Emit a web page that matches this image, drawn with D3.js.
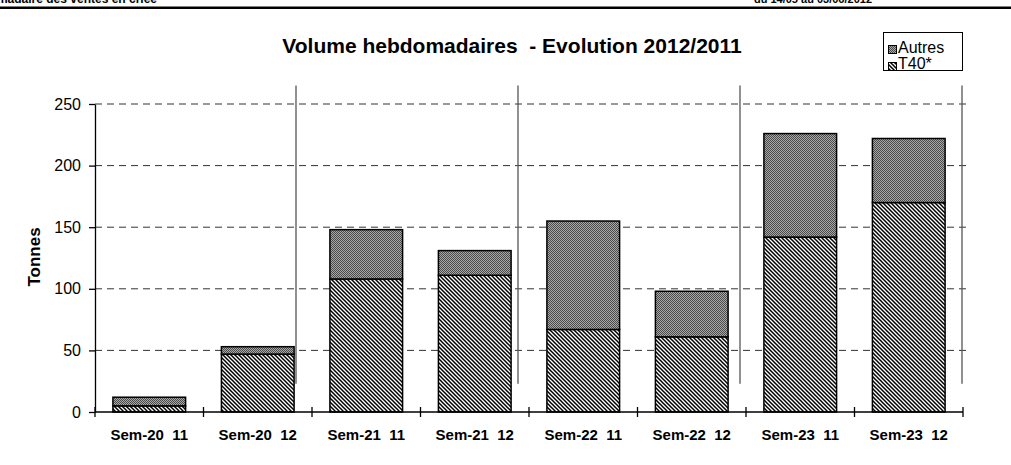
<!DOCTYPE html>
<html><head><meta charset="utf-8">
<script src="https://cdn.jsdelivr.net/npm/d3@7"></script>
<style>
body{margin:0;background:#fff;}
svg{display:block;font-family:Arial,"Liberation Sans",sans-serif;}
</style></head>
<body><svg id="c" width="1011" height="465"></svg>
<script>
const categories = ["Sem-20  11","Sem-20  12","Sem-21  11","Sem-21  12","Sem-22  11","Sem-22  12","Sem-23  11","Sem-23  12"];
const weeks = ["Sem-20","Sem-21","Sem-22","Sem-23"];
const t40 = [5, 47, 108, 111, 67, 61, 142, 170];
const autres = [7, 6, 40, 20, 88, 37, 84, 52];
const yTicks = [0, 50, 100, 150, 200, 250];
const seriesNames = ["Autres", "T40*"];
const title = "Volume hebdomadaires  - Evolution 2012/2011";
const headerLeft = "Hebdomadaire des ventes en criée";
const headerRight = "du 14/05 au 03/06/2012";

(function(){
const svg = d3.select("#c");
const W = 1011, H = 465;
const pL = 95, pR = 963, pT = 104, pB = 412;

// patterns
const defs = svg.append("defs");
const patA = defs.append("pattern").attr("id","pA").attr("patternUnits","userSpaceOnUse").attr("width",2).attr("height",2);
patA.append("rect").attr("width",2).attr("height",2).attr("fill","#a8a8a8");
patA.append("rect").attr("width",1).attr("height",1).attr("fill","#4a4a4a");
patA.append("rect").attr("x",1).attr("y",1).attr("width",1).attr("height",1).attr("fill","#4a4a4a");
const patT = defs.append("pattern").attr("id","pT").attr("patternUnits","userSpaceOnUse").attr("width",4).attr("height",4);
patT.append("rect").attr("width",4).attr("height",4).attr("fill","#fff");
patT.append("path").attr("d","M-1,-1L5,5M-1,3L1,5M3,-1L5,1").attr("stroke","#000").attr("stroke-width",1.5);

// header
svg.append("text").attr("x",157).attr("y",3).attr("text-anchor","end").attr("font-size",12).attr("font-weight","bold").text(headerLeft);
svg.append("text").attr("x",872).attr("y",3).attr("text-anchor","end").attr("font-size",11).attr("font-weight","bold").text(headerRight);
svg.append("line").attr("x1",0).attr("x2",W).attr("y1",7.8).attr("y2",7.8).attr("stroke","#000").attr("stroke-width",2.4);

const x = d3.scaleBand().domain(categories).range([pL,pR]).paddingInner(0.33).paddingOuter(0.165);
const xStep = d3.scaleBand().domain(categories).range([pL,pR]);
const y = d3.scaleLinear().domain([0,250]).range([pB,pT]);
const xs = d3.scaleBand().domain(weeks).range([pL-21, pR-1]);

// title
svg.append("text").attr("x",512).attr("y",53).attr("text-anchor","middle").attr("font-size",21)
  .attr("font-weight","bold").style("white-space","pre").text(title);

// gridlines
svg.append("g").selectAll("line").data(yTicks.filter(d=>d>0)).join("line")
  .attr("x1",pL).attr("x2",970).attr("y1",d=>y(d)).attr("y2",d=>y(d))
  .attr("stroke","#333").attr("stroke-width",1).attr("stroke-dasharray","7,5");

// separators
svg.append("g").selectAll("line").data(weeks).join("line")
  .attr("x1",d=>xs(d)+xs.bandwidth()).attr("x2",d=>xs(d)+xs.bandwidth())
  .attr("y1",y(265)).attr("y2",y(23))
  .attr("stroke","#555").attr("stroke-width",1.3);

// bars
const stackData = categories.map((c,i)=>({cat:c, t40:t40[i], autres:autres[i]}));
const g = svg.append("g");
g.selectAll("rect.t").data(stackData).join("rect").attr("class","t")
  .attr("x",d=>x(d.cat)).attr("width",x.bandwidth())
  .attr("y",d=>y(d.t40)).attr("height",d=>y(0)-y(d.t40))
  .attr("fill","url(#pT)").attr("stroke","#000").attr("stroke-width",1.5);
g.selectAll("rect.a").data(stackData).join("rect").attr("class","a")
  .attr("x",d=>x(d.cat)).attr("width",x.bandwidth())
  .attr("y",d=>y(d.t40+d.autres)).attr("height",d=>y(d.t40)-y(d.t40+d.autres))
  .attr("fill","url(#pA)").attr("stroke","#000").attr("stroke-width",1.5);

// y axis
const ya = svg.append("g").attr("transform",`translate(${pL},0)`)
  .call(d3.axisLeft(y).tickValues(yTicks).tickSize(6).tickSizeOuter(0).tickPadding(8));
ya.select(".domain").attr("stroke","#000").attr("stroke-width",1.3);
ya.selectAll(".tick line").attr("stroke","#000").attr("stroke-width",1.3);
ya.selectAll(".tick text").attr("font-size",16).attr("font-family","Arial,'Liberation Sans',sans-serif").attr("fill","#000");

// x axis
svg.append("line").attr("x1",pL).attr("x2",pR).attr("y1",pB).attr("y2",pB).attr("stroke","#000").attr("stroke-width",1.3);
const boundaries = categories.map(c=>xStep(c)).concat([pR]);
svg.append("g").selectAll("line").data(boundaries).join("line")
  .attr("x1",d=>d).attr("x2",d=>d).attr("y1",pB-5).attr("y2",pB+5)
  .attr("stroke","#000").attr("stroke-width",1.3);
svg.append("g").selectAll("text").data(categories).join("text")
  .attr("x",d=>x(d)+x.bandwidth()/2).attr("y",440).attr("text-anchor","middle")
  .attr("font-size",15).attr("font-weight","bold").style("white-space","pre").text(d=>d);

// y title
svg.append("text").attr("transform","translate(40,257) rotate(-90)").attr("text-anchor","middle")
  .attr("font-size",17).attr("font-weight","bold").text("Tonnes");

// legend
const lg = svg.append("g");
lg.append("rect").attr("x",883.5).attr("y",32.5).attr("width",79).attr("height",38).attr("fill","#fff").attr("stroke","#000").attr("stroke-width",1);
const fills = ["url(#pA)","url(#pT)"];
seriesNames.forEach((n,i)=>{
  lg.append("rect").attr("x",888.5).attr("y",45.5+i*17).attr("width",8).attr("height",8).attr("fill",fills[i]).attr("stroke","#000").attr("stroke-width",1);
  lg.append("text").attr("x",898).attr("y",52.5+i*16).attr("font-size",16).text(n);
});
})();
</script></body></html>
